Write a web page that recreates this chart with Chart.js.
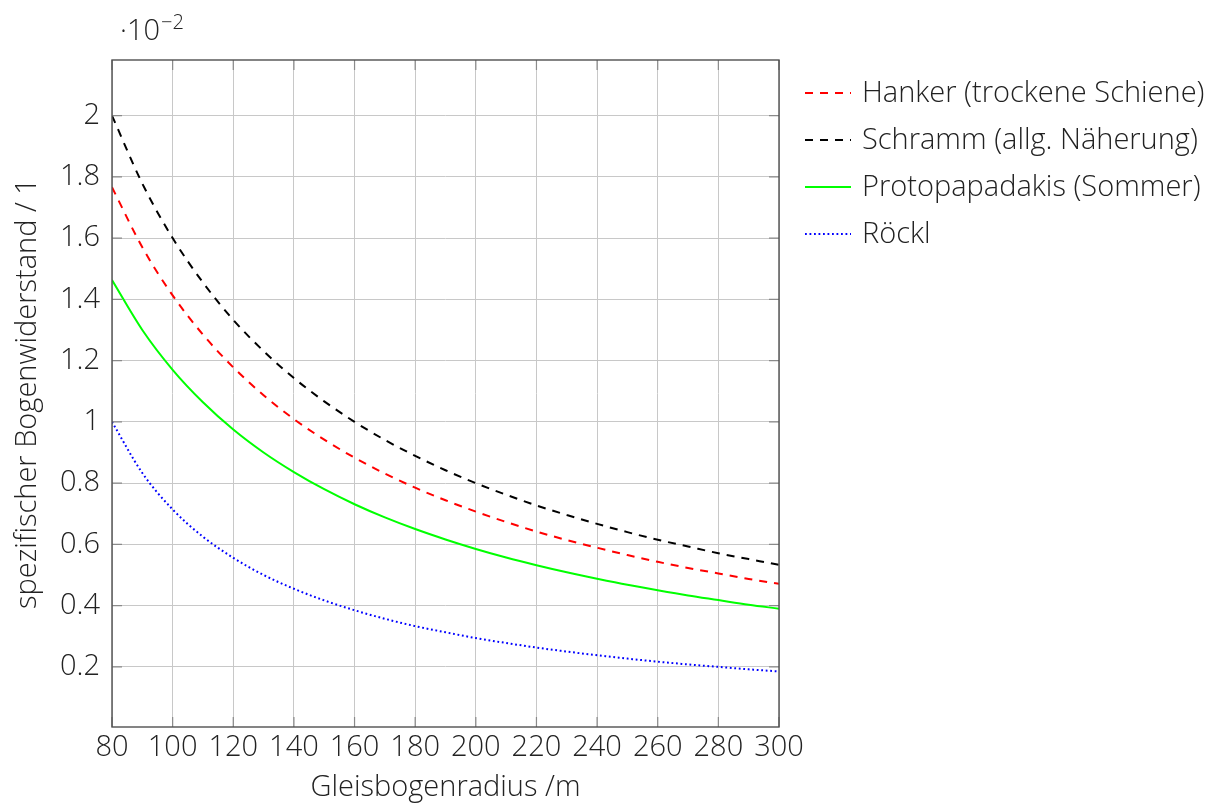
<!DOCTYPE html>
<html>
<head>
<meta charset="utf-8">
<title>Bogenwiderstand</title>
<script src="https://cdn.jsdelivr.net/npm/chart.js@4.4.1/dist/chart.umd.min.js"></script>
<style>
  html, body { margin: 0; padding: 0; background: #fff; }
  #wrap { width: 1218px; height: 805px; position: relative; }
</style>
</head>
<body>
<div id="wrap"><canvas id="curveChart" width="1218" height="805"></canvas></div>
<script>
// Gleisbogenradius in m
const radii = [80, 90, 100, 110, 120, 130, 140, 150, 160, 170, 180, 190,
  200, 210, 220, 230, 240, 250, 260, 270, 280, 290, 300];

// spezifischer Bogenwiderstand (x 10^-2)
const hanker = [1.766, 1.570, 1.413, 1.285, 1.178, 1.087, 1.009, 0.942, 0.883, 0.831, 0.785, 0.744,
  0.707, 0.673, 0.642, 0.614, 0.589, 0.565, 0.543, 0.523, 0.505, 0.487, 0.471];
const schramm = [2.000, 1.778, 1.600, 1.455, 1.333, 1.231, 1.143, 1.067, 1.000, 0.941, 0.889, 0.842,
  0.800, 0.762, 0.727, 0.696, 0.667, 0.640, 0.615, 0.593, 0.571, 0.552, 0.533];
const protopapadakis = [1.463, 1.300, 1.170, 1.064, 0.975, 0.900, 0.836, 0.780, 0.731, 0.688, 0.650, 0.616,
  0.585, 0.557, 0.532, 0.509, 0.488, 0.468, 0.450, 0.433, 0.418, 0.403, 0.390];
const roeckl = [1.000, 0.833, 0.714, 0.625, 0.556, 0.500, 0.455, 0.417, 0.385, 0.357, 0.333, 0.313,
  0.294, 0.278, 0.263, 0.250, 0.238, 0.227, 0.217, 0.208, 0.200, 0.192, 0.185];

const seriesLabels = [
  "Hanker (trockene Schiene)",
  "Schramm (allg. Näherung)",
  "Protopapadakis (Sommer)",
  "Röckl",
];
const yTicks = [0.2, 0.4, 0.6, 0.8, 1.0, 1.2, 1.4, 1.6, 1.8, 2.0];
const xTicks = [80, 100, 120, 140, 160, 180, 200, 220, 240, 260, 280, 300];

const FONT = "'Open Sans', 'Noto Sans', sans-serif";
const TEXT = "#222";
const SIZE = 29;

function toPoints(values) {
  return values.map((v, i) => ({ x: radii[i], y: v }));
}

// frame, inward tick marks, exponent and legend (pgfplots look)
const pgfExtras = {
  id: "pgfExtras",
  afterDatasetsDraw(chart) {
    const { ctx, chartArea: a, scales } = chart;
    const len = 10;
    ctx.save();
    ctx.strokeStyle = "#8a8a8a";
    ctx.lineWidth = 1.2;
    ctx.beginPath();
    xTicks.forEach((t) => {
      const px = scales.x.getPixelForValue(t);
      ctx.moveTo(px, a.bottom); ctx.lineTo(px, a.bottom - len);
      ctx.moveTo(px, a.top); ctx.lineTo(px, a.top + len);
    });
    yTicks.forEach((t) => {
      const py = scales.y.getPixelForValue(t);
      ctx.moveTo(a.left, py); ctx.lineTo(a.left + len, py);
      ctx.moveTo(a.right, py); ctx.lineTo(a.right - len, py);
    });
    ctx.stroke();
    ctx.strokeStyle = "#505050";
    ctx.lineWidth = 1.4;
    ctx.strokeRect(a.left, a.top, a.right - a.left, a.bottom - a.top);
    ctx.restore();
  },
  afterDraw(chart) {
    const { ctx } = chart;
    ctx.save();
    ctx.fillStyle = TEXT;
    ctx.textBaseline = "alphabetic";
    ctx.font = "300 " + SIZE + "px " + FONT;
    ctx.fillText("·10", 120, 40);
    const w = ctx.measureText("·10").width;
    ctx.font = "300 20px " + FONT;
    ctx.fillText("−2", 120 + w + 1, 29);

    // legend
    chart.data.datasets.forEach((ds, i) => {
      const y = 93 + i * 47;
      ctx.save();
      ctx.strokeStyle = ds.borderColor;
      ctx.lineWidth = ds.borderWidth;
      ctx.setLineDash(ds.borderDash || []);
      ctx.beginPath();
      ctx.moveTo(805, y);
      ctx.lineTo(851, y);
      ctx.stroke();
      ctx.restore();
      ctx.font = "300 " + SIZE + "px " + FONT;
      ctx.textBaseline = "middle";
      ctx.fillStyle = TEXT;
      ctx.fillText(ds.label, 862, y + 1);
    });
    ctx.restore();
  },
};

const ctx = document.getElementById("curveChart").getContext("2d");
const chart = new Chart(ctx, {
  type: "line",
  data: {
    datasets: [
      { label: seriesLabels[0], data: toPoints(hanker), borderColor: "#ff0000", borderWidth: 2, borderDash: [8, 7] },
      { label: seriesLabels[1], data: toPoints(schramm), borderColor: "#000000", borderWidth: 2, borderDash: [8, 7] },
      { label: seriesLabels[2], data: toPoints(protopapadakis), borderColor: "#00ff00", borderWidth: 2 },
      { label: seriesLabels[3], data: toPoints(roeckl), borderColor: "#0000ff", borderWidth: 2, borderDash: [1.8, 2.7] },
    ],
  },
  options: {
    responsive: false,
    animation: false,
    layout: { padding: { top: 60, right: 439, left: 0, bottom: 0 } },
    elements: {
      point: { radius: 0 },
      line: { cubicInterpolationMode: "monotone", fill: false },
    },
    plugins: {
      legend: { display: false },
      tooltip: { enabled: false },
    },
    scales: {
      x: {
        type: "linear",
        min: 80,
        max: 300,
        afterFit: (scale) => { scale.height = 78; },
        afterBuildTicks: (scale) => { scale.ticks = xTicks.map((v) => ({ value: v })); },
        grid: { color: "#c8c8c8", lineWidth: 1, drawTicks: false },
        border: { display: false },
        ticks: { padding: 3, color: TEXT, font: { family: FONT, size: SIZE, weight: "300" }, maxRotation: 0 },
        title: {
          display: true,
          text: "Gleisbogenradius /m",
          color: TEXT,
          font: { family: FONT, size: SIZE, weight: "300" },
          padding: { top: 0, bottom: 0 },
        },
      },
      y: {
        type: "linear",
        min: 0.0037,
        max: 2.1815,
        afterFit: (scale) => { scale.width = 112; },
        afterBuildTicks: (scale) => { scale.ticks = yTicks.map((v) => ({ value: v })); },
        grid: { color: "#c8c8c8", lineWidth: 1, drawTicks: false },
        border: { display: false },
        ticks: {
          padding: 12,
          color: TEXT,
          font: { family: FONT, size: SIZE, weight: "300" },
          callback: (v) => String(Number(v.toFixed(1))),
        },
        title: {
          display: true,
          text: "spezifischer Bogenwiderstand / 1",
          color: TEXT,
          font: { family: FONT, size: SIZE, weight: "300" },
          padding: { top: 10, bottom: 0 },
        },
      },
    },
  },
  plugins: [pgfExtras],
});
</script>
</body>
</html>
